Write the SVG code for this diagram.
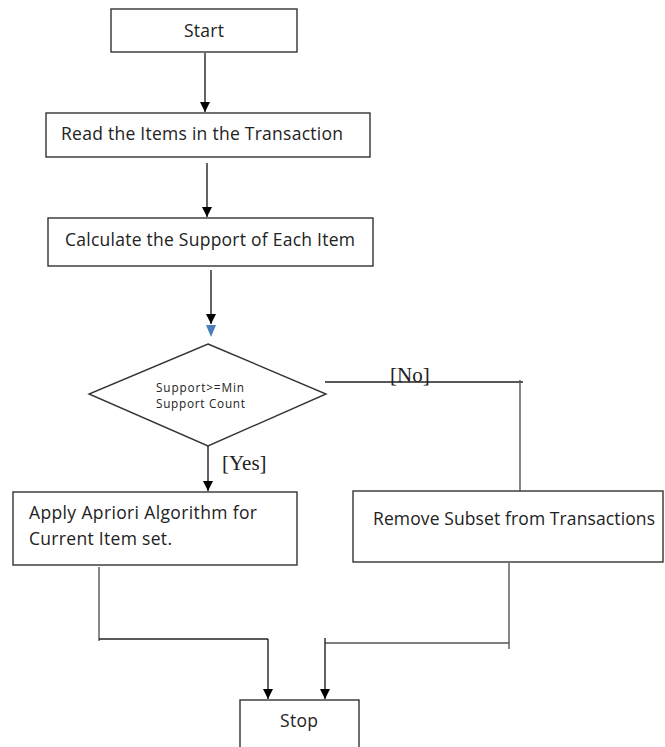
<svg xmlns="http://www.w3.org/2000/svg" width="665" height="747" viewBox="0 0 665 747">
<style>
.box{fill:#fff;stroke:#333;stroke-width:1.4}
.t{font-family:"Open Sans","Noto Sans",sans-serif;font-size:17.5px;fill:#222}
.ts{font-family:"Open Sans","Noto Sans",sans-serif;font-size:11.8px;fill:#222}
.lbl{font-family:"Liberation Serif","Times New Roman",serif;font-size:21px;fill:#222}
.ln{fill:none;stroke:#222;stroke-width:1.4}
.lg{fill:none;stroke:#555;stroke-width:1.4}
</style>
<defs>
<marker id="ah" viewBox="0 0 10 10" refX="10" refY="5" markerWidth="10" markerHeight="10" markerUnits="userSpaceOnUse" orient="auto">
<path d="M0,0 L10,5 L0,10 z" fill="#000"/>
</marker>
</defs>
<rect width="665" height="747" fill="#fff"/>
<g id="connectors">
<line class="ln" x1="205" y1="53" x2="205" y2="112" marker-end="url(#ah)"/>
<line class="ln" x1="207" y1="163" x2="207" y2="217" marker-end="url(#ah)"/>
<line class="ln" x1="211" y1="270" x2="211" y2="324" marker-end="url(#ah)"/>
<path d="M206,325 L216,325 L211,337 z" fill="#4a7ebb"/>
<line class="ln" x1="208" y1="432" x2="208" y2="491" marker-end="url(#ah)"/>
<path class="ln" d="M325,382 L523,382"/>
<path class="lg" d="M520,380 L520,491"/>
<path class="lg" d="M99,567 L99,641"/>
<path class="ln" d="M99,639 L268,639"/>
<line class="ln" x1="268" y1="639" x2="268" y2="699" marker-end="url(#ah)"/>
<path class="lg" d="M509,563 L509,649"/>
<path class="lg" d="M325,643 L509,643"/>
<line class="ln" x1="325" y1="638" x2="325" y2="699" marker-end="url(#ah)"/>
<text class="lbl" x="390" y="382">[No]</text>
<text class="lbl" x="222" y="470">[Yes]</text>
</g>
<g id="start">
<rect class="box" x="111" y="9" width="186" height="43"/>
<text class="t" x="184" y="37" textLength="40">Start</text>
</g>
<g id="read">
<rect class="box" x="46" y="113" width="324" height="44"/>
<text class="t" x="61" y="140" textLength="282">Read the Items in the Transaction</text>
</g>
<g id="calculate">
<rect class="box" x="48" y="218" width="325" height="48"/>
<text class="t" x="65" y="246" textLength="290">Calculate the Support of Each Item</text>
</g>
<g id="decision">
<polygon class="box" points="208,344 326,394 208,446 89,394"/>
<text class="ts" x="156" y="392" textLength="88">Support&gt;=Min</text>
<text class="ts" x="156" y="408" textLength="89">Support Count</text>
</g>
<g id="apply">
<rect class="box" x="13" y="492" width="284" height="73"/>
<text class="t" x="29" y="519" textLength="228">Apply Apriori Algorithm for</text>
<text class="t" x="29" y="545" textLength="143">Current Item set.</text>
</g>
<g id="remove">
<rect class="box" x="353" y="491" width="310" height="71"/>
<text class="t" x="373" y="525" textLength="282">Remove Subset from Transactions</text>
</g>
<g id="stop">
<rect class="box" x="240" y="700" width="119" height="60"/>
<text class="t" x="280" y="727" textLength="38">Stop</text>
</g>
</svg>
